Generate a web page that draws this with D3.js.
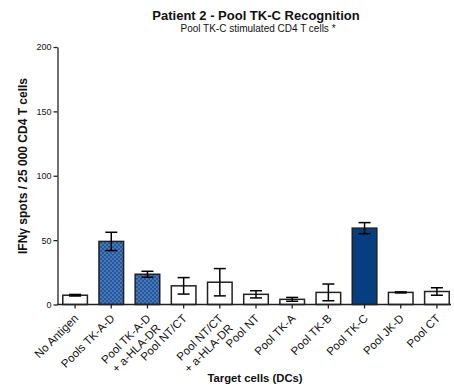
<!DOCTYPE html>
<html>
<head>
<meta charset="utf-8">
<script src="https://cdn.jsdelivr.net/npm/d3@7/dist/d3.min.js"></script>
<style>
  html, body { margin: 0; padding: 0; background: #fff; }
  svg { display: block; font-family: "Liberation Sans", Arial, sans-serif; }
</style>
</head>
<body>
<svg id="chart" width="454" height="392"></svg>
<script>
// Target cell conditions (label lines)
const categories = [
  ["No Antigen"],
  ["Pools TK-A-D"],
  ["Pool TK-A-D", "+ a-HLA-DR"],
  ["Pool NT/CT"],
  ["Pool NT/CT", "+ a-HLA-DR"],
  ["Pool NT"],
  ["Pool TK-A"],
  ["Pool TK-B"],
  ["Pool TK-C"],
  ["Pool JK-D"],
  ["Pool CT"]
];
// Mean IFN-gamma spots per 25 000 CD4 T cells
const means = [7.2, 49.0, 23.5, 14.5, 17.3, 7.9, 4.0, 9.4, 59.3, 9.4, 10.1];
// Standard error of the mean
const errors = [0.6, 7.1, 2.3, 6.4, 10.6, 2.8, 1.5, 6.5, 4.3, 0.4, 2.9];
// Fill style for each bar
const fills = ["none", "hatch", "hatch", "none", "none", "none", "none", "none", "solid", "none", "none"];
const yTicks = [0, 50, 100, 150, 200];

const svg = d3.select("#chart");

// fine woven blue texture
const defs = svg.append("defs");
const pat = defs.append("pattern")
  .attr("id", "weave").attr("patternUnits", "userSpaceOnUse")
  .attr("width", 4).attr("height", 4);
pat.append("rect").attr("width", 4).attr("height", 4).attr("fill", "#28579a");
pat.append("rect").attr("x", 0).attr("y", 0).attr("width", 2).attr("height", 2).attr("fill", "#4677b8");
pat.append("rect").attr("x", 2).attr("y", 2).attr("width", 2).attr("height", 2).attr("fill", "#4677b8");

const fillColor = { none: "#ffffff", hatch: "url(#weave)", solid: "#053f80" };

const x = d3.scaleBand()
  .domain(d3.range(categories.length))
  .range([57, 455])
  .paddingInner(0.32)
  .paddingOuter(0.16);

const y = d3.scaleLinear().domain([0, 200]).range([304.5, 47]);

// bars
svg.append("g").selectAll("rect")
  .data(means)
  .join("rect")
  .attr("x", (d, i) => x(i))
  .attr("y", d => y(d))
  .attr("width", x.bandwidth())
  .attr("height", d => y(0) - y(d))
  .attr("fill", (d, i) => fillColor[fills[i]])
  .attr("stroke", "#222")
  .attr("stroke-width", 1.5);

// error bars
const capW = 6;
const eb = svg.append("g").attr("stroke", "#000").attr("stroke-width", 1.5);
means.forEach((m, i) => {
  const cx = x(i) + x.bandwidth() / 2;
  const hi = y(m + errors[i]), lo = y(m - errors[i]);
  eb.append("line").attr("x1", cx).attr("x2", cx).attr("y1", hi).attr("y2", lo);
  eb.append("line").attr("x1", cx - capW).attr("x2", cx + capW).attr("y1", hi).attr("y2", hi);
  eb.append("line").attr("x1", cx - capW).attr("x2", cx + capW).attr("y1", lo).attr("y2", lo);
});

// y axis
const yAxis = svg.append("g")
  .attr("transform", "translate(57.5,0)")
  .call(d3.axisLeft(y).tickValues(yTicks).tickSize(4).tickSizeOuter(0).tickPadding(2));
yAxis.select(".domain").attr("stroke", "#222").attr("stroke-width", 1.3);
yAxis.selectAll(".tick line").attr("stroke", "#222").attr("stroke-width", 1.3);
yAxis.selectAll(".tick text").attr("font-size", 9).attr("fill", "#111")
  .attr("font-family", "Liberation Sans, Arial, sans-serif");

// x axis
const xAxisG = svg.append("g").attr("transform", "translate(0,304.5)");
xAxisG.append("line").attr("x1", 57).attr("x2", 451).attr("stroke", "#222").attr("stroke-width", 1.3);
xAxisG.selectAll("line.tk")
  .data(d3.range(categories.length))
  .join("line").attr("class", "tk")
  .attr("x1", i => x(i) + x.bandwidth() / 2).attr("x2", i => x(i) + x.bandwidth() / 2)
  .attr("y1", 0).attr("y2", 4)
  .attr("stroke", "#222").attr("stroke-width", 1.3);

// rotated category labels
const lbl = svg.append("g").selectAll("text")
  .data(categories)
  .join("text")
  .attr("transform", (d, i) => `translate(${x(i) + x.bandwidth() / 2 + 4},319) rotate(-45)`)
  .attr("text-anchor", "end")
  .attr("font-size", 11.5)
  .attr("fill", "#111");
lbl.selectAll("tspan")
  .data(d => d)
  .join("tspan")
  .attr("x", 0)
  .attr("dy", (d, j) => j === 0 ? 0 : "1.2em")
  .text(d => d);

// titles
svg.append("text").attr("x", 256).attr("y", 20).attr("text-anchor", "middle")
  .attr("font-size", 13).attr("font-weight", "bold").attr("fill", "#111")
  .text("Patient 2 - Pool TK-C Recognition");
svg.append("text").attr("x", 258).attr("y", 32).attr("text-anchor", "middle")
  .attr("font-size", 10).attr("fill", "#111")
  .text("Pool TK-C stimulated CD4 T cells *");

svg.append("text").attr("x", 255).attr("y", 382).attr("text-anchor", "middle")
  .attr("font-size", 11.3).attr("font-weight", "bold").attr("fill", "#111")
  .text("Target cells (DCs)");

svg.append("text")
  .attr("transform", "translate(27,166) rotate(-90)")
  .attr("text-anchor", "middle")
  .attr("font-size", 12).attr("font-weight", "bold").attr("fill", "#111")
  .text("IFNγ spots / 25 000 CD4 T cells");
</script>
</body>
</html>
